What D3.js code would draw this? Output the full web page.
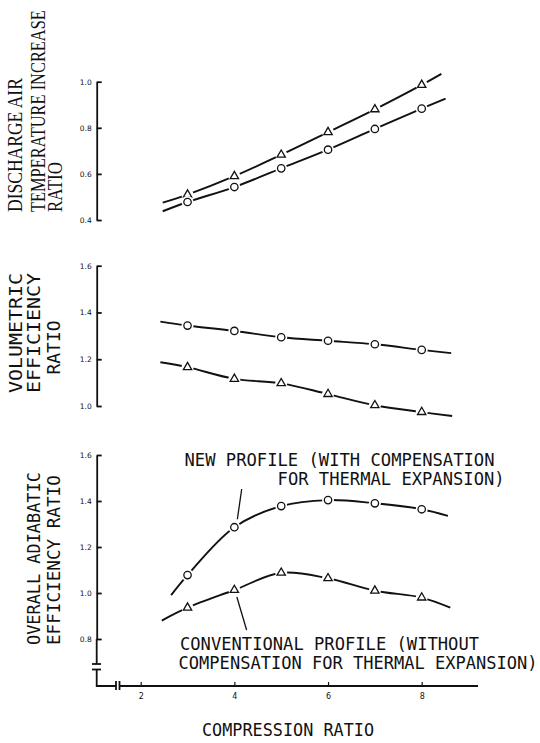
<!DOCTYPE html>
<html>
<head>
<meta charset="utf-8">
<script src="https://cdn.jsdelivr.net/npm/d3@7"></script>
<style>
  body { margin: 0; background: #fff; }
  svg { display: block; }
</style>
</head>
<body>
<div id="chart-area"></div>
<script>
// compression ratios where the test points sit
let ratios = [3, 4, 5, 6, 7, 8];
let xTicks = [2, 4, 6, 8];

// discharge air temperature increase ratio
let tempTriangle = [0.51, 0.59, 0.683, 0.781, 0.88, 0.986];
let tempCircle = [0.478, 0.543, 0.624, 0.705, 0.795, 0.883];
let tempTriangleEnds = [[2.47, 0.475], [8.42, 1.034]];
let tempCircleEnds = [[2.47, 0.438], [8.51, 0.927]];
let tempTicks = [0.4, 0.6, 0.8, 1.0];

// volumetric efficiency ratio
let volCircle = [1.344, 1.321, 1.294, 1.279, 1.264, 1.24];
let volTriangle = [1.166, 1.116, 1.097, 1.051, 1.003, 0.974];
let volCircleEnds = [[2.42, 1.361], [8.63, 1.226]];
let volTriangleEnds = [[2.42, 1.187], [8.65, 0.957]];
let volTicks = [1.0, 1.2, 1.4, 1.6];

// overall adiabatic efficiency ratio
let effCircle = [1.078, 1.286, 1.378, 1.404, 1.39, 1.364];
let effTriangle = [0.936, 1.013, 1.088, 1.064, 1.01, 0.98];
let effCircleEnds = [[2.65, 0.991], [8.56, 1.335]];
let effTriangleEnds = [[2.45, 0.88], [8.61, 0.936]];
let effTicks = [0.8, 1.0, 1.2, 1.4, 1.6];

let monoFont = "'DejaVu Sans Mono', 'Liberation Mono', monospace";

let svg = d3.select("#chart-area").append("svg")
	.attr("width", 540)
	.attr("height", 743);

let x = d3.scaleLinear().domain([2, 8]).range([140.7, 421.7]);

let yTemp = d3.scaleLinear().domain([0.4, 1.0]).range([220, 81.7]);
let yVol = d3.scaleLinear().domain([1.0, 1.6]).range([406, 265.7]);
let yEff = d3.scaleLinear().domain([0.8, 1.6]).range([639, 455]);

function drawSeries(y, values, ends, shape) {
	let pts = [ends[0]].concat(ratios.map((r, i) => [r, values[i]]), [ends[1]]);

	let line = d3.line()
		.x(d => x(d[0]))
		.y(d => y(d[1]))
		.curve(d3.curveCatmullRom.alpha(0.5));

	svg.append("path")
		.attr("d", line(pts))
		.attr("fill", "none")
		.attr("stroke", "#111")
		.attr("stroke-width", 1.9);

	let marks = svg.append("g");
	let data = ratios.map((r, i) => [r, values[i]]);

	// white halo makes the little gap round every marker
	marks.selectAll(".halo").data(data).enter()
		.append("circle")
		.attr("class", "halo")
		.attr("cx", d => x(d[0]))
		.attr("cy", d => y(d[1]))
		.attr("r", 6)
		.attr("fill", "#fff");

	if (shape == "circle") {
		marks.selectAll(".mark").data(data).enter()
			.append("circle")
			.attr("class", "mark")
			.attr("cx", d => x(d[0]))
			.attr("cy", d => y(d[1]))
			.attr("r", 3.7)
			.attr("fill", "#fff")
			.attr("stroke", "#111")
			.attr("stroke-width", 1.3);
	} else {
		marks.selectAll(".mark").data(data).enter()
			.append("path")
			.attr("class", "mark")
			.attr("transform", d => "translate(" + x(d[0]) + "," + y(d[1]) + ")")
			.attr("d", d3.symbol(d3.symbolTriangle).size(30))
			.attr("fill", "#fff")
			.attr("stroke", "#111")
			.attr("stroke-width", 1.3);
	}
}

function drawYAxis(y, ticks) {
	let axis = d3.axisLeft(y)
		.tickValues(ticks)
		.tickSize(-5)
		.tickSizeOuter(0)
		.tickPadding(5)
		.tickFormat(d3.format(".1f"));

	let g = svg.append("g")
		.attr("transform", "translate(96.7,0)")
		.call(axis);
	g.select(".domain").attr("stroke", "#111").attr("stroke-width", 1.8);
	g.selectAll(".tick line").attr("stroke", "#111").attr("stroke-width", 1.8);
	g.selectAll(".tick text")
		.attr("font-family", "'DejaVu Sans', sans-serif")
		.attr("font-size", 7.5)
		.attr("fill", "#111");
	return g;
}

// rotated label squeezed to the wanted length with a scale, so its box stays true
function rotLabel(text, bx, by, len, family, size, anchor) {
	let t = svg.append("text")
		.attr("text-anchor", anchor || "start")
		.attr("font-family", family)
		.attr("font-size", size)
		.attr("fill", "#111")
		.text(text);
	let natural = t.node().getComputedTextLength();
	let sx = len / natural;
	t.attr("transform", "translate(" + bx + "," + by + ") rotate(-90) scale(" + sx + ",1)");
}

// ---- top panel
drawYAxis(yTemp, tempTicks);
drawSeries(yTemp, tempTriangle, tempTriangleEnds, "triangle");
drawSeries(yTemp, tempCircle, tempCircleEnds, "circle");

let serif = "'Liberation Serif', 'DejaVu Serif', serif";
rotLabel("DISCHARGE AIR", 21.7, 212, 134, serif, 20);
rotLabel("TEMPERATURE INCREASE", 45, 212, 202, serif, 20);
rotLabel("RATIO", 61.7, 212, 50, serif, 20);

// ---- middle panel
drawYAxis(yVol, volTicks);
drawSeries(yVol, volCircle, volCircleEnds, "circle");
drawSeries(yVol, volTriangle, volTriangleEnds, "triangle");

rotLabel("VOLUMETRIC", 21.7, 393, 120, monoFont, 17);
rotLabel("EFFICIENCY", 40, 393, 120, monoFont, 17);
rotLabel("RATIO", 60, 347.5, 54, monoFont, 17, "middle");

// ---- bottom panel
drawYAxis(yEff, effTicks);
drawSeries(yEff, effCircle, effCircleEnds, "circle");
drawSeries(yEff, effTriangle, effTriangleEnds, "triangle");

rotLabel("OVERALL ADIABATIC", 40, 645, 173, monoFont, 17);
rotLabel("EFFICIENCY RATIO", 60, 645, 170, monoFont, 17);

// y axis broken below 0.8, then turns into the x axis
let axisY = 686;
let ax = svg.append("g")
	.attr("stroke", "#111")
	.attr("stroke-width", 1.8)
	.attr("fill", "none");
ax.append("path").attr("d", "M96.7," + yEff(0.8) + "V664");
ax.append("path").attr("d", "M92,664H101");
ax.append("path").attr("d", "M92,669.5H101");
ax.append("path").attr("d", "M96.7,669.5V" + axisY + "H116");
ax.append("path").attr("d", "M116,681V690M119.5,681V690");
ax.append("path").attr("d", "M119.5," + axisY + "H478");

let xAxis = d3.axisBottom(x)
	.tickValues(xTicks)
	.tickSize(-4)
	.tickSizeOuter(0)
	.tickPadding(7)
	.tickFormat(d3.format("d"));
let gx = svg.append("g")
	.attr("transform", "translate(0," + axisY + ")")
	.call(xAxis);
gx.select(".domain").remove();
gx.selectAll(".tick line").attr("stroke", "#111").attr("stroke-width", 1.2);
gx.selectAll(".tick text")
	.attr("font-family", "'DejaVu Sans', sans-serif")
	.attr("font-size", 8)
	.attr("fill", "#111");

svg.append("text")
	.attr("x", 288)
	.attr("y", 736)
	.attr("text-anchor", "middle")
	.attr("font-family", monoFont)
	.attr("font-size", 17)
	.attr("textLength", 172)
	.attr("lengthAdjust", "spacingAndGlyphs")
	.attr("fill", "#111")
	.text("COMPRESSION RATIO");

// annotations with leader lines
let notes = [
	{t: "NEW PROFILE (WITH COMPENSATION", x: 184.5, y: 466, w: 310},
	{t: "FOR THERMAL EXPANSION)", x: 277.6, y: 485, w: 227},
	{t: "CONVENTIONAL PROFILE (WITHOUT", x: 180, y: 650, w: 299},
	{t: "COMPENSATION FOR THERMAL EXPANSION)", x: 178.6, y: 669, w: 359}
];
svg.selectAll(".note").data(notes).enter()
	.append("text")
	.attr("class", "note")
	.attr("x", d => d.x)
	.attr("y", d => d.y)
	.attr("font-family", monoFont)
	.attr("font-size", 17)
	.attr("textLength", d => d.w)
	.attr("lengthAdjust", "spacingAndGlyphs")
	.attr("fill", "#111")
	.text(d => d.t);

svg.append("line")
	.attr("x1", 241.7).attr("y1", 489)
	.attr("x2", x(4) + 3).attr("y2", yEff(effCircle[1]) - 8)
	.attr("stroke", "#111").attr("stroke-width", 1.3);
svg.append("line")
	.attr("x1", 246.6).attr("y1", 630)
	.attr("x2", x(4) + 2.5).attr("y2", yEff(effTriangle[1]) + 7)
	.attr("stroke", "#111").attr("stroke-width", 1.3);
</script>
</body>
</html>
